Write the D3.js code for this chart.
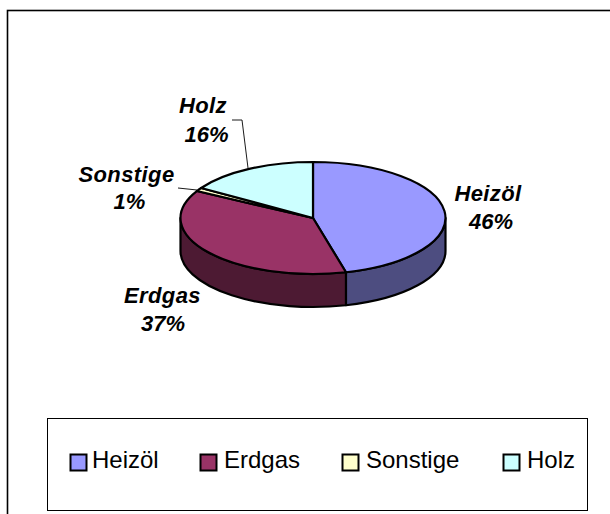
<!DOCTYPE html>
<html><head><meta charset="utf-8">
<script src="https://cdn.jsdelivr.net/npm/d3@7"></script>
<style>html,body{margin:0;padding:0;background:#fff}svg{display:block}
text{font-family:"Liberation Sans",Arial,sans-serif;fill:#000}</style></head>
<body><div id="c"></div>
<script>
const categories=["Heizöl","Erdgas","Sonstige","Holz"];
const values=[46,37,1,16];
const labels=["46%","37%","1%","16%"];
const topColors=["#9999FF","#993366","#FFFFCC","#CCFFFF"];
const sideColors=["#4D4D80","#4D1A33","#808066","#668080"];

const W=610,H=514;
const svg=d3.select("#c").append("svg").attr("width",W).attr("height",H);
svg.append("rect").attr("x",7.5).attr("y",10.5).attr("width",W+20).attr("height",H+20).attr("fill","#fff").attr("stroke","#000").attr("stroke-width",1.6);

const cx=313,cy=218,rx=132.5,ry=56,depth=33;
const pie=d3.pie().sort(null).value(d=>d)(values);
const px=a=>cx+rx*Math.sin(a), py=a=>cy-ry*Math.cos(a);
const ell=(a,b,sweep)=>`A${rx},${ry} 0 ${Math.abs(b-a)>Math.PI?1:0} ${sweep} ${px(b)},`;

const g=svg.append("g").attr("stroke","#000").attr("stroke-width",2.2).attr("stroke-linejoin","round");
pie.forEach((s,i)=>{
  const a=Math.max(s.startAngle,Math.PI/2), b=Math.min(s.endAngle,3*Math.PI/2);
  if(b<=a) return;
  g.append("path").attr("fill",sideColors[i]).attr("d",
    `M${px(a)},${py(a)}`+ell(a,b,1)+`${py(b)}`+
    `L${px(b)},${py(b)+depth}`+ell(b,a,0)+`${py(a)+depth}Z`);
});
pie.forEach((s,i)=>{
  const a=s.startAngle,b=s.endAngle;
  g.append("path").attr("fill",topColors[i]).attr("d",
    `M${cx},${cy}L${px(a)},${py(a)}`+ell(a,b,1)+`${py(b)}Z`);
});

const leaders=[[[178,188],[197,190]],[[232,120],[242,120],[248,168]]];
leaders.forEach(l=>svg.append("path").attr("fill","none").attr("stroke","#000").attr("stroke-width",0.9).attr("d",d3.line()(l)));

const labelPos=[[488,201,491,229],[162.5,303,163,331],[126.5,182,129.5,209],[203,113,206.5,142]];
categories.forEach((c,i)=>{
  const p=labelPos[i];
  const t=svg.append("text").attr("text-anchor","middle").attr("font-size",22).attr("font-weight","bold").attr("font-style","italic");
  t.append("tspan").attr("x",p[0]).attr("y",p[1]).attr("letter-spacing",0.4).text(c);
  t.append("tspan").attr("x",p[2]).attr("y",p[3]).text(labels[i]);
});

svg.append("rect").attr("x",47.5).attr("y",418.5).attr("width",540).attr("height",92).attr("fill","#fff").attr("stroke","#000").attr("stroke-width",1);
const keyX=[70.5,200.5,342.5,503.5],textX=[92,224,366,527];
categories.forEach((c,i)=>{
  svg.append("rect").attr("x",keyX[i]).attr("y",454.5).attr("width",16).attr("height",16).attr("fill",topColors[i]).attr("stroke","#000").attr("stroke-width",2);
  svg.append("text").attr("x",textX[i]).attr("y",468).attr("font-size",24).text(c);
});
</script></body></html>
